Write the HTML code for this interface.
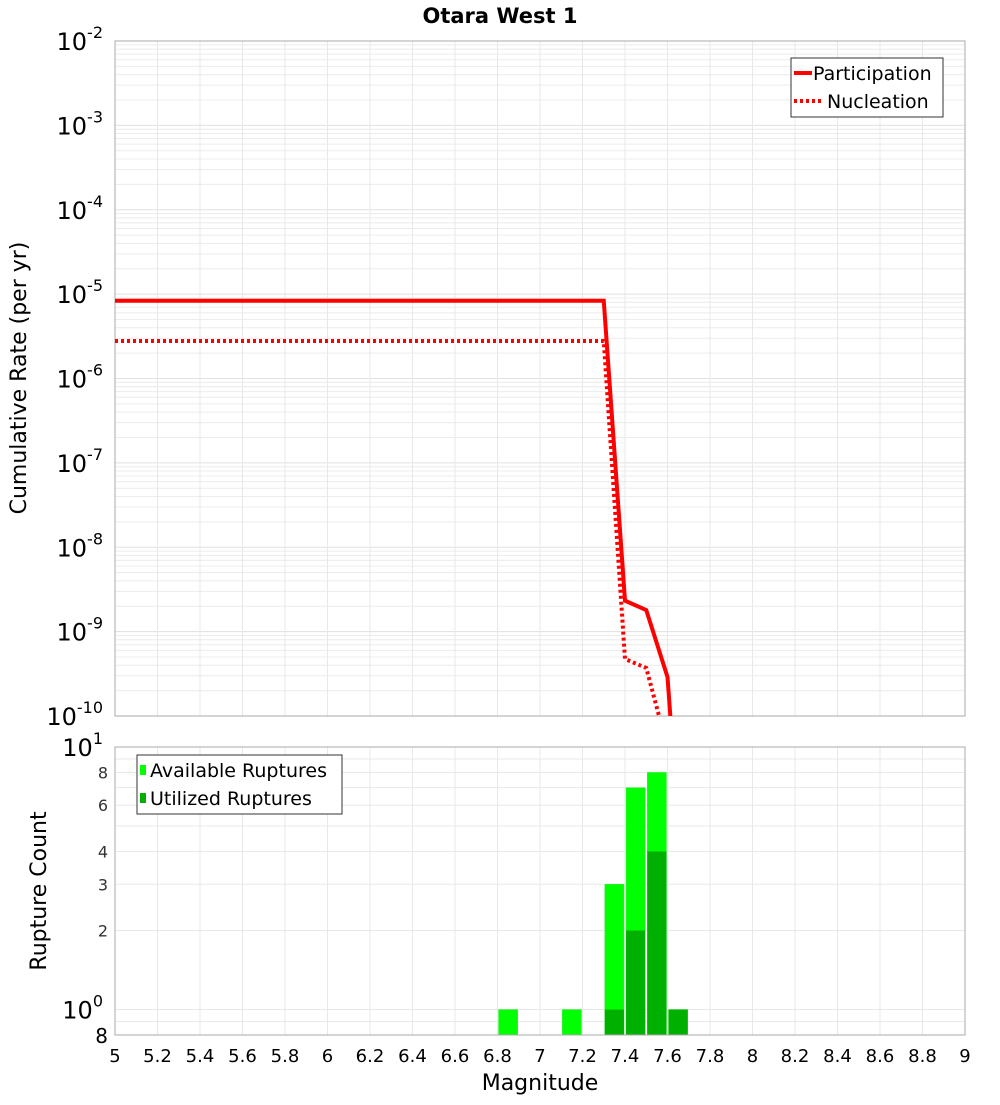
<!DOCTYPE html>
<html><head><meta charset="utf-8"><style>
body{margin:0;background:#fff;font-family:"Liberation Sans","DejaVu Sans",sans-serif}
svg text{font-family:"DejaVu Sans","Liberation Sans",sans-serif}
</style></head><body>
<svg id="chart" width="1000" height="1100" xmlns="http://www.w3.org/2000/svg">
<text x="500" y="23" text-anchor="middle" font-size="21" font-weight="bold">Otara West 1</text>
<g id="topg"></g><g id="botg"></g>
<text transform="translate(26,378) rotate(-90)" text-anchor="middle" font-size="22">Cumulative Rate (per yr)</text>
<text transform="translate(46,891) rotate(-90)" text-anchor="middle" font-size="22">Rupture Count</text>
<text x="540" y="1090" text-anchor="middle" font-size="22">Magnitude</text>
</svg>
<script>
const magsLine=[5,7.3,7.4,7.5,7.6,7.7];
const participation=[8.36e-6,8.36e-6,2.33e-9,1.80e-9,2.9e-10,1e-13];
const magsNuc=[5,7.3,7.4,7.5,7.6];
const nucleation=[2.78e-6,2.78e-6,4.74e-10,3.71e-10,4.2e-11];
const barMags=[6.85,7.15,7.35,7.45,7.55,7.65];
const available=[1,1,3,7,8,1];
const utilized=[0,0,1,2,4,1];
const xTicks=[5,5.2,5.4,5.6,5.8,6,6.2,6.4,6.6,6.8,7,7.2,7.4,7.6,7.8,8,8.2,8.4,8.6,8.8,9];
const topExp=[-2,-3,-4,-5,-6,-7,-8,-9,-10];

const NS="http://www.w3.org/2000/svg";
const L=115,R=965,T1=41,B1=716,T2=747,B2=1035;
const x=m=>L+(m-5)*(R-L)/4;
const y1=v=>T1+(-2-Math.log10(v))*(B1-T1)/8;
const y2=v=>T2+(1-Math.log10(v))*(B2-T2)/(1-Math.log10(0.8));
function el(p,t,a){const e=document.createElementNS(NS,t);for(const k in a)e.setAttribute(k,a[k]);p.appendChild(e);return e;}
const gTop=document.getElementById('topg'),gBot=document.getElementById('botg');
const svg=document.getElementById('chart');
const defs=el(svg,'defs',{});
const c1=el(defs,'clipPath',{id:'c1'});el(c1,'rect',{x:L,y:T1,width:R-L,height:B1-T1});
const c2=el(defs,'clipPath',{id:'c2'});el(c2,'rect',{x:L,y:T2,width:R-L,height:B2-T2});
for(let e=-10;e<-2;e++)for(let k=1;k<10;k++){const v=k*Math.pow(10,e);const g=el(gTop,'line',{x1:L,x2:R,y1:y1(v),y2:y1(v),stroke:k==1?'#e0e0e0':'#ececec','stroke-width':1});

}
for(const m of xTicks){const g=el(gTop,'line',{x1:x(m),x2:x(m),y1:T1,y2:B1,stroke:'#e8e8e8'});


const g2=el(gBot,'line',{x1:x(m),x2:x(m),y1:T2,y2:B2,stroke:'#e8e8e8'});


const t=el(svg,'text',{x:x(m),y:1062,'text-anchor':'middle','font-size':18});t.textContent=String(m);

}
for(const e of topExp){const t=el(svg,'text',{x:103,y:y1(Math.pow(10,e))+9,'text-anchor':'end','font-size':24});


t.innerHTML='10<tspan dy="-12" font-size="16">'+e+'</tspan>';}
el(gTop,'rect',{x:L,y:T1,width:R-L,height:B1-T1,fill:'none',stroke:'#aaa'});
function path(ms,vs){return ms.map((m,i)=>(i?'L':'M')+x(m)+','+y1(vs[i])).join(' ');}
const p=el(gTop,'path',{d:path(magsLine,participation),fill:'none',stroke:'#f00','stroke-width':4,'clip-path':'url(#c1)'});


const n=el(gTop,'path',{d:path(magsNuc,nucleation),fill:'none',stroke:'#f00','stroke-width':4,'stroke-dasharray':'3,3','clip-path':'url(#c1)'});


const lg=el(gTop,'g',{});


el(lg,'rect',{x:791,y:58,width:152,height:59,fill:'#fff',stroke:'#333'});
el(lg,'line',{x1:794,x2:812,y1:73,y2:73,stroke:'#f00','stroke-width':4});
el(lg,'line',{x1:794,x2:822,y1:101,y2:101,stroke:'#f00','stroke-width':4,'stroke-dasharray':'3,3'});
let t=el(lg,'text',{x:813,y:80,'font-size':19});t.textContent='Participation';
t=el(lg,'text',{x:827,y:108,'font-size':19});t.textContent='Nucleation';
for(const v of [0.9,1,2,3,4,5,6,7,8,9]){const g=el(gBot,'line',{x1:L,x2:R,y1:y2(v),y2:y2(v),stroke:'#e8e8e8'});

}
const bt=[[8,'8'],[6,'6'],[4,'4'],[3,'3'],[2,'2']];
for(const [v,s] of bt){const tt=el(svg,'text',{x:108,y:y2(v)+6,'text-anchor':'end','font-size':16,fill:'#333'});tt.textContent=s;

}
t=el(svg,'text',{x:103,y:y2(10)+9,'text-anchor':'end','font-size':24});t.innerHTML='10<tspan dy="-12" font-size="16">1</tspan>';
t=el(svg,'text',{x:103,y:y2(1)+9,'text-anchor':'end','font-size':24});t.innerHTML='10<tspan dy="-12" font-size="16">0</tspan>';
t=el(svg,'text',{x:108,y:1043,'text-anchor':'end','font-size':20});t.textContent='8';
const bw=0.09;
barMags.forEach((m,i)=>{const x0=x(m-bw/2),w=x(m+bw/2)-x0;
const a=el(gBot,'rect',{x:x0,y:y2(available[i]),width:w,height:B2-y2(available[i]),fill:'#00ff00',stroke:'#33ee33','stroke-width':0.5,'clip-path':'url(#c2)'});


if(utilized[i]>0){const u=el(gBot,'rect',{x:x0,y:y2(utilized[i]),width:w,height:B2-y2(utilized[i]),fill:'#00b000','clip-path':'url(#c2)'});

}});
el(gBot,'rect',{x:L,y:T2,width:R-L,height:B2-T2,fill:'none',stroke:'#aaa'});
const lb=el(gBot,'g',{});


el(lb,'rect',{x:137,y:755,width:205,height:59,fill:'#fff',stroke:'#333'});
el(lb,'rect',{x:140,y:765,width:6,height:10,fill:'#00ff00'});
el(lb,'rect',{x:140,y:793,width:6,height:10,fill:'#00b000'});
t=el(lb,'text',{x:150,y:777,'font-size':19});t.textContent='Available Ruptures';
t=el(lb,'text',{x:150,y:805,'font-size':19});t.textContent='Utilized Ruptures';
</script>
</body></html>
